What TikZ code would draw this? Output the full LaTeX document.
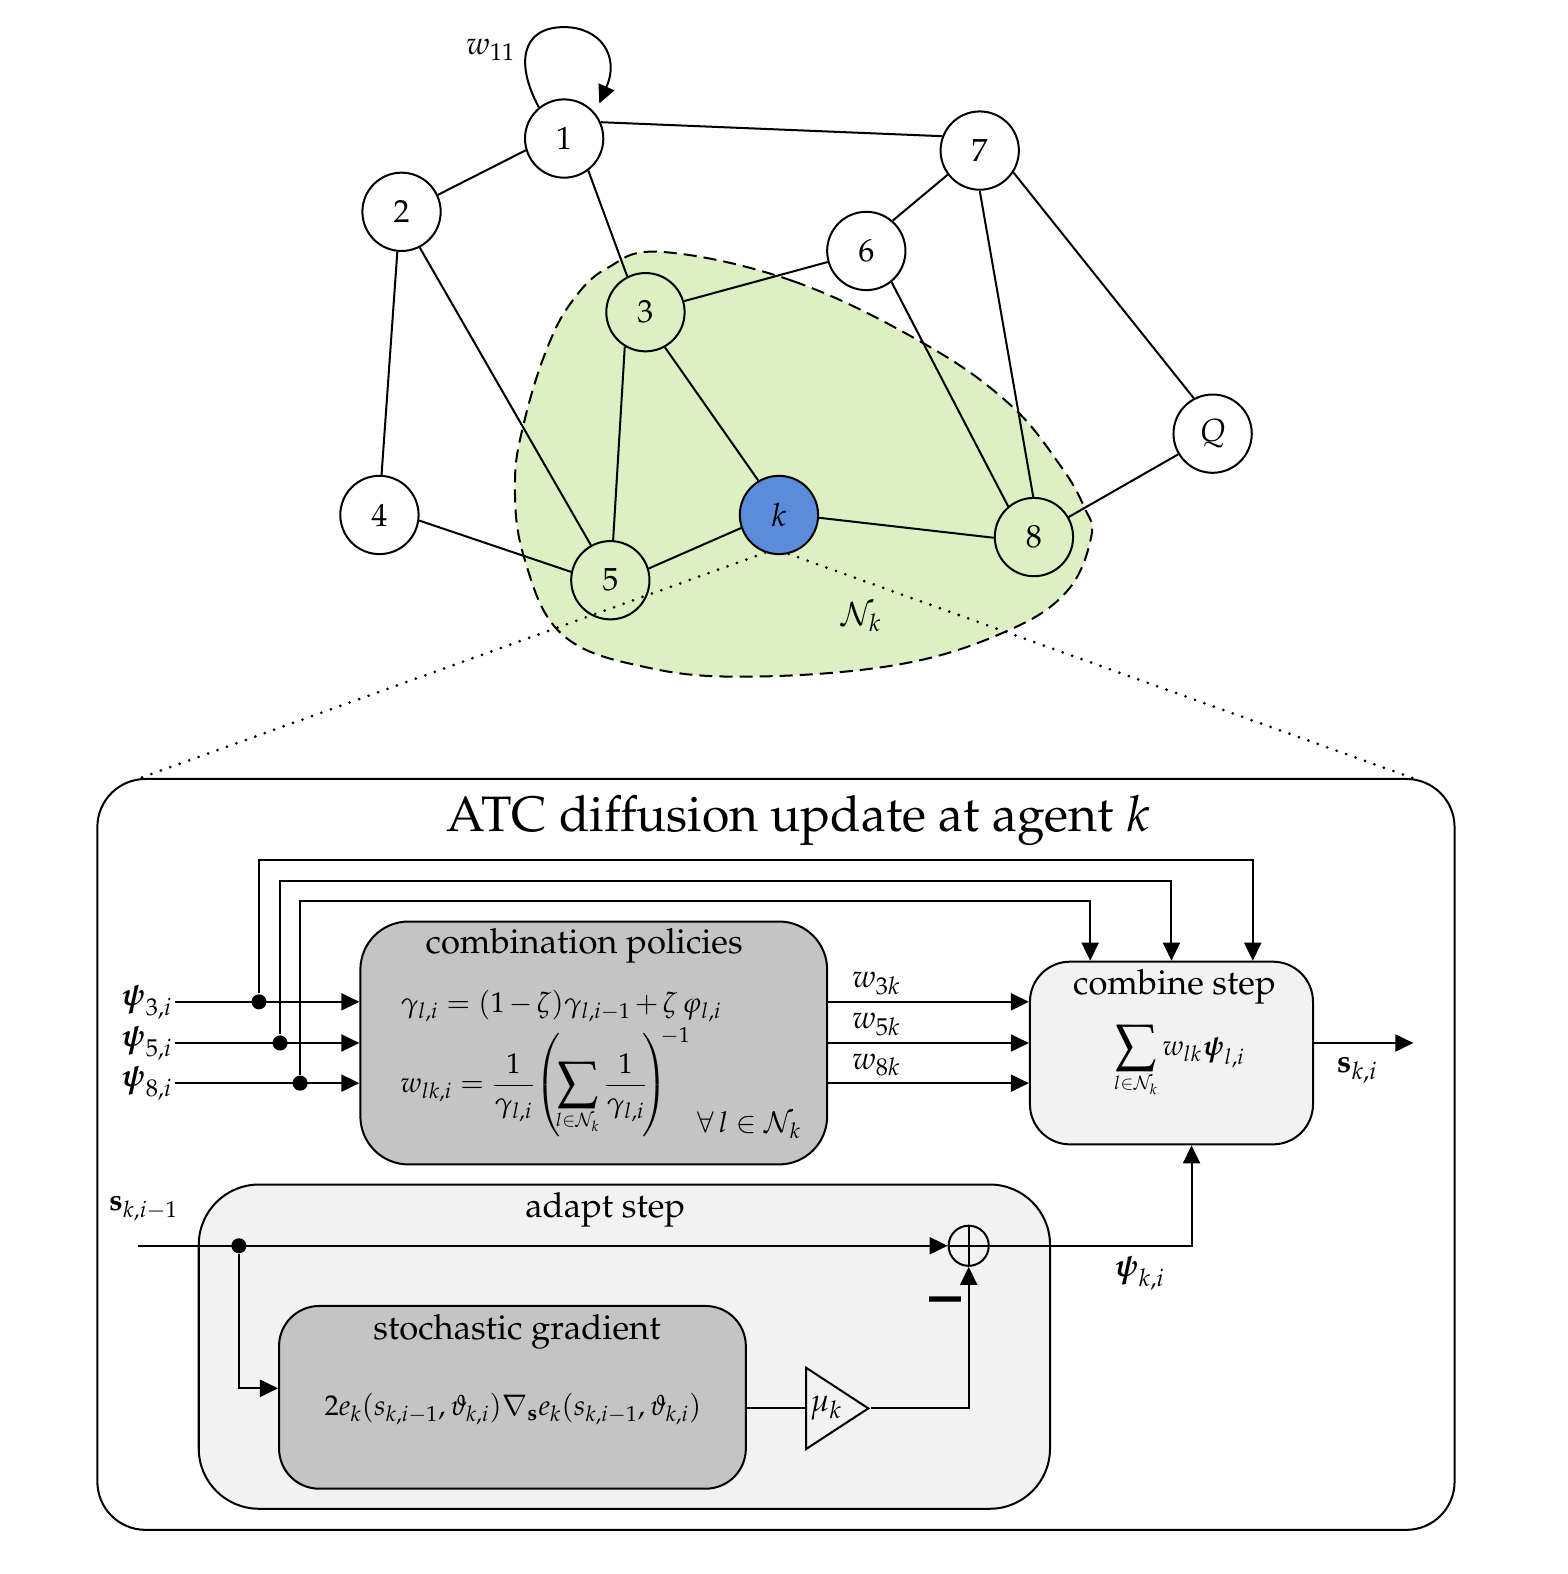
\documentclass[tikz,border=0pt]{standalone}
\usepackage[T1]{fontenc}
\usepackage{amsmath,amssymb}
\usepackage{mathpazo}
\usepackage{graphicx}
\usepackage{tikz}
\usetikzlibrary{arrows.meta,positioning,shapes.geometric}

\definecolor{nbrgreen}{RGB}{220,240,195}
\definecolor{agentblue}{RGB}{91,140,220}
\definecolor{darkbox}{RGB}{196,196,196}
\definecolor{lightbox}{RGB}{242,242,242}
\newcommand{\bigsum}{\mathop{\vcenter{\hbox{\scalebox{1.3}{$\displaystyle\sum$}}}}\limits}
\newcommand{\sumset}{\scalebox{0.85}{$\scriptstyle l\in\mathcal{N}_k$}}

\begin{document}
\begin{tikzpicture}[
      x=0.5bp,y=-0.5bp,
      line width=1bp,
      agent/.style={circle,draw,fill=white,inner sep=0pt,minimum size=39bp,font=\fontsize{16}{19}\selectfont},
      block/.style={draw,rectangle,inner sep=0pt,align=center},
      heading/.style={inner sep=0pt,font=\fontsize{17.3}{20}\selectfont},
      eqn/.style={inner sep=0pt,font=\fontsize{14.3}{17}\selectfont},
      lab/.style={inner sep=1pt,font=\fontsize{16}{19}\selectfont},
      junction/.style={circle,fill=black,inner sep=0pt,minimum size=7.5bp},
      zoomline/.style={line cap=round,line width=1.5bp,dash pattern=on 0bp off 5bp},
      >={Triangle[length=9bp,width=8.5bp]}
    ]
      \useasboundingbox (0,0) rectangle (1562,1568);

      % neighbourhood
      \draw[fill=nbrgreen,dash pattern=on 6.5bp off 3.5bp] plot[smooth cycle,tension=0.65] coordinates
        {(660,251) (790,280) (920,342) (1005,402) (1055,462) (1080,505) (1087,535) (1062,590) (1000,630)
         (895,662) (750,674) (645,665) (560,632) (522,555) (513,480) (523,417) (545,347) (570,300) (605,267)};

      \node[agent] (a1) at (562,138) {1};
      \node[agent] (a2) at (400,211) {2};
      \node[agent,fill=nbrgreen] (a3) at (643,311) {3};
      \node[agent] (a4) at (378,513) {4};
      \node[agent,fill=nbrgreen] (a5) at (608,578) {5};
      \node[agent] (a6) at (863,250) {6};
      \node[agent] (a7) at (976,150) {7};
      \node[agent,fill=nbrgreen] (a8) at (1030,535) {8};
      \node[agent,fill=agentblue] (ak) at (776,513) {$k$};
      \node[agent] (aQ) at (1208,432) {$Q$};

      \draw (a1.24) -- (a7.159);
      \draw (a1.197) -- (a2.25);
      \draw (a1.-53) -- (a3.117);
      \draw (a2.264) -- (a4.87);
      \draw (a2.-63) -- (a5.119);
      \draw (a3.16) -- (a6.196);
      \draw (a3.239) -- (a5.86);
      \draw (a3.-61) -- (ak.121);
      \draw (a4.-8) -- (a5.168);
      \draw (a5.17) -- (ak.199);
      \draw (ak.-4) -- (a8.181);
      \draw (a6.49) -- (a7.217);
      \draw (a6.-51) -- (a8.130);
      \draw (a7.270) -- (a8.91);
      \draw (a7.-33) -- (aQ.118);
      \draw (a8.30) -- (aQ.211);

      \coordinate (looptop) at (562,27);
      \coordinate (looptip) at (597,103);
      \draw[->] (a1.129) .. controls (514,65) and (518,27) .. (looptop) .. controls (597,27) and (618,55) .. (looptip);
      \node[lab] (w11) at (489,50) {$w_{11}$};
      \node[lab] (Nk) at (858,615) {$\mathcal{N}_k$};

      % panel
      \node[block,minimum width=676bp,minimum height=374bp,rounded corners=24bp] (frame) at (773,1150) {};
      \coordinate (zl) at (137,776);
      \coordinate (zr) at (1410,776);
      \draw[zoomline] (ak.250) -- (zl);
      \draw[zoomline] (ak.284) -- (zr);
      \node[inner sep=0pt,font=\fontsize{24.9}{28}\selectfont] (title) at (795,817) {ATC diffusion update at agent $k$};

      % combination policies
      \node[block,fill=darkbox,minimum width=232.5bp,minimum height=121bp,rounded corners=24bp] (comb) at (591.5,1039) {};
      \node[heading,below=3.7bp of comb.north,xshift=-4.75bp] (combtitle) {combination policies};
      \node[eqn,anchor=west,align=left] (eqpol) at (398,1059.5)
        {$\medmuskip=2.5mu \gamma_{l,i} = (1-\zeta)\gamma_{l,i-1} + \zeta\,\varphi_{l,i}$\\[1.5bp]
         $w_{lk,i} = \dfrac{1}{\gamma_{l,i}}\!\left(\!\bigsum_{\sumset}\dfrac{1}{\gamma_{l,i}}\!\right)^{\!\!-1}$};
      \node[eqn] (forall) at (746,1121) {$\forall\, l\in\mathcal{N}_k$};

      % combine step
      \node[block,fill=lightbox,minimum width=141bp,minimum height=91bp,rounded corners=20bp] (cstep) at (1167,1049) {};
      \node[heading,below=4bp of cstep.north,xshift=1.5bp] (cstitle) {combine step};
      \node[eqn] (eqsum) at (1175,1057) {$\bigsum_{\sumset} w_{lk}\boldsymbol{\psi}_{l,i}$};

      % adapt step
      \node[block,fill=lightbox,minimum width=424bp,minimum height=161.5bp,rounded corners=30bp] (adapt) at (622,1341.5) {};
      \node[heading,below=4bp of adapt.north,xshift=-9.5bp] (adtitle) {adapt step};
      \node[block,fill=darkbox,minimum width=232.5bp,minimum height=91bp,rounded corners=20bp] (grad) at (510.5,1392) {};
      \node[heading,below=4bp of grad.north,xshift=2.25bp] (gradtitle) {stochastic gradient};
      \node[eqn] (eqgrad) at (511,1404) {$2e_k(s_{k,i-1},\vartheta_{k,i})\nabla_{\mathbf{s}}e_k(s_{k,i-1},\vartheta_{k,i})$};
      \node[draw,isosceles triangle,isosceles triangle stretches,minimum width=40.5bp,minimum height=31bp,inner sep=0pt,anchor=west,font=\fontsize{16}{19}\selectfont] (gain) at (802,1403) {$\mu_k$};
      \node[draw,circle,minimum size=20bp,inner sep=0pt,
        path picture={\draw (path picture bounding box.north) -- (path picture bounding box.south);
                      \draw (path picture bounding box.west) -- (path picture bounding box.east);}] (plus) at (965,1241) {};

      % inputs
      \node[lab] (psi3) at (146,998) {$\boldsymbol{\psi}_{3,i}$};
      \node[lab] (psi5) at (146,1039) {$\boldsymbol{\psi}_{5,i}$};
      \node[lab] (psi8) at (146,1079) {$\boldsymbol{\psi}_{8,i}$};
      \node[junction] (j3) at (258,998) {};
      \node[junction] (j5) at (279,1039) {};
      \node[junction] (j8) at (299,1079) {};
      \draw[->] (psi3) -- (j3 -| comb.west);
      \draw[->] (psi5) -- (j5 -| comb.west);
      \draw[->] (psi8) -- (j8 -| comb.west);
      \coordinate (t3) at (1248,857);
      \coordinate (t5) at (1167,878);
      \coordinate (t8) at (1086,898);
      \draw[->] (j3) |- (t3) -- (t3 |- cstep.north);
      \draw[->] (j5) |- (t5) -- (t5 |- cstep.north);
      \draw[->] (j8) |- (t8) -- (t8 |- cstep.north);

      \draw[->] (comb.east |- j3) -- node[lab,pos=.24,above=2bp] (w3k) {$w_{3k}$} (cstep.west |- j3);
      \draw[->] (comb.east |- j5) -- node[lab,pos=.24,above=2bp] (w5k) {$w_{5k}$} (cstep.west |- j5);
      \draw[->] (comb.east |- j8) -- node[lab,pos=.24,above=2bp] (w8k) {$w_{8k}$} (cstep.west |- j8);

      \coordinate (out) at (1408,1039);
      \draw[->] (cstep.east |- out) -- (out);
      \node[lab] (skout) at (1352,1066) {$\mathbf{s}_{k,i}$};

      % adapt signals
      \coordinate (sin) at (137,1241);
      \node[lab,font=\fontsize{15}{18}\selectfont] (skin) at (143,1204) {$\mathbf{s}_{k,i-1}$};
      \node[junction] (j0) at (238,1241) {};
      \draw[->] (sin) -- (plus.west);
      \coordinate (gin) at (238,1383);
      \draw[->] (j0) -- (gin) -- (gin -| grad.west);
      \draw (grad.east |- gain.west) -- (gain.west);
      \draw[->] (gain.apex) -| (plus.south);
      \coordinate (up) at (1187,1241);
      \draw[->] (plus.east) -- (up) -- (up |- cstep.south);
      \node[lab] (psik) at (1135,1268) {$\boldsymbol{\psi}_{k,i}$};
      \node[inner sep=0pt,font=\fontsize{32}{34}\bfseries\selectfont] (minus) at (942,1301) {--};
    \end{tikzpicture}
\end{document}
